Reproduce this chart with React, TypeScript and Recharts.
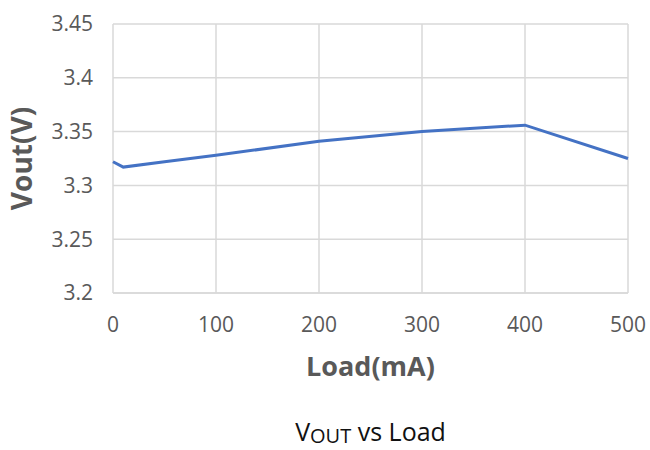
import React from 'react';
import { LineChart, Line, XAxis, YAxis, CartesianGrid } from 'recharts';

const loadMa = [0, 10, 50, 100, 200, 300, 400, 500];
const voutV = [3.322, 3.317, 3.322, 3.328, 3.341, 3.35, 3.356, 3.325];
const xTicks = [0, 100, 200, 300, 400, 500];
const yTicks = [3.2, 3.25, 3.3, 3.35, 3.4, 3.45];

const data = loadMa.map((load, i) => ({ load, vout: voutV[i] }));

const FONT = '"Open Sans", sans-serif';
const GRAY = '#595959';

const App: React.FC = () => {
  return (
    <div style={{ position: 'absolute', left: 0, top: 0, width: 650, height: 450, background: '#fff' }}>
      <LineChart width={650} height={450} data={data} margin={{ top: 24, right: 22, left: 0, bottom: 77 }}>
        <CartesianGrid stroke="#d9d9d9" strokeWidth={1.5} vertical horizontal />
        <XAxis
          dataKey="load"
          type="number"
          domain={[0, 500]}
          ticks={xTicks}
          axisLine={{ stroke: '#d9d9d9', strokeWidth: 1.5 }}
          tickLine={false}
          tickSize={0}
          tickMargin={24}
          height={80}
          tick={{ fill: GRAY, fontSize: 21, fontFamily: FONT }}
          label={{
            value: 'Load(mA)',
            position: 'insideTop',
            offset: 64,
            style: { fill: GRAY, fontSize: 27, fontWeight: 700, fontFamily: FONT },
          }}
        />
        <YAxis
          type="number"
          domain={[3.2, 3.45]}
          ticks={yTicks}
          axisLine={false}
          tickLine={false}
          tickSize={0}
          tickMargin={20}
          width={113}
          tick={{ fill: GRAY, fontSize: 21, fontFamily: FONT }}
          label={{
            value: 'Vout(V)',
            angle: -90,
            position: 'insideLeft',
            offset: 22,
            style: { fill: GRAY, fontSize: 28, fontWeight: 700, fontFamily: FONT, textAnchor: 'middle' },
          }}
        />
        <Line
          type="linear"
          dataKey="vout"
          stroke="#4472c4"
          strokeWidth={3}
          dot={false}
          isAnimationActive={false}
        />
      </LineChart>
      <div
        style={{
          position: 'absolute',
          left: 113,
          width: 515,
          top: 416,
          height: 30,
          textAlign: 'center',
          fontFamily: FONT,
          fontSize: 25,
          color: '#111',
          lineHeight: '30px',
          whiteSpace: 'nowrap',
        }}
      >
        V<span style={{ fontSize: 20, verticalAlign: -2 }}>OUT</span> vs Load
      </div>
    </div>
  );
};

export default App;
